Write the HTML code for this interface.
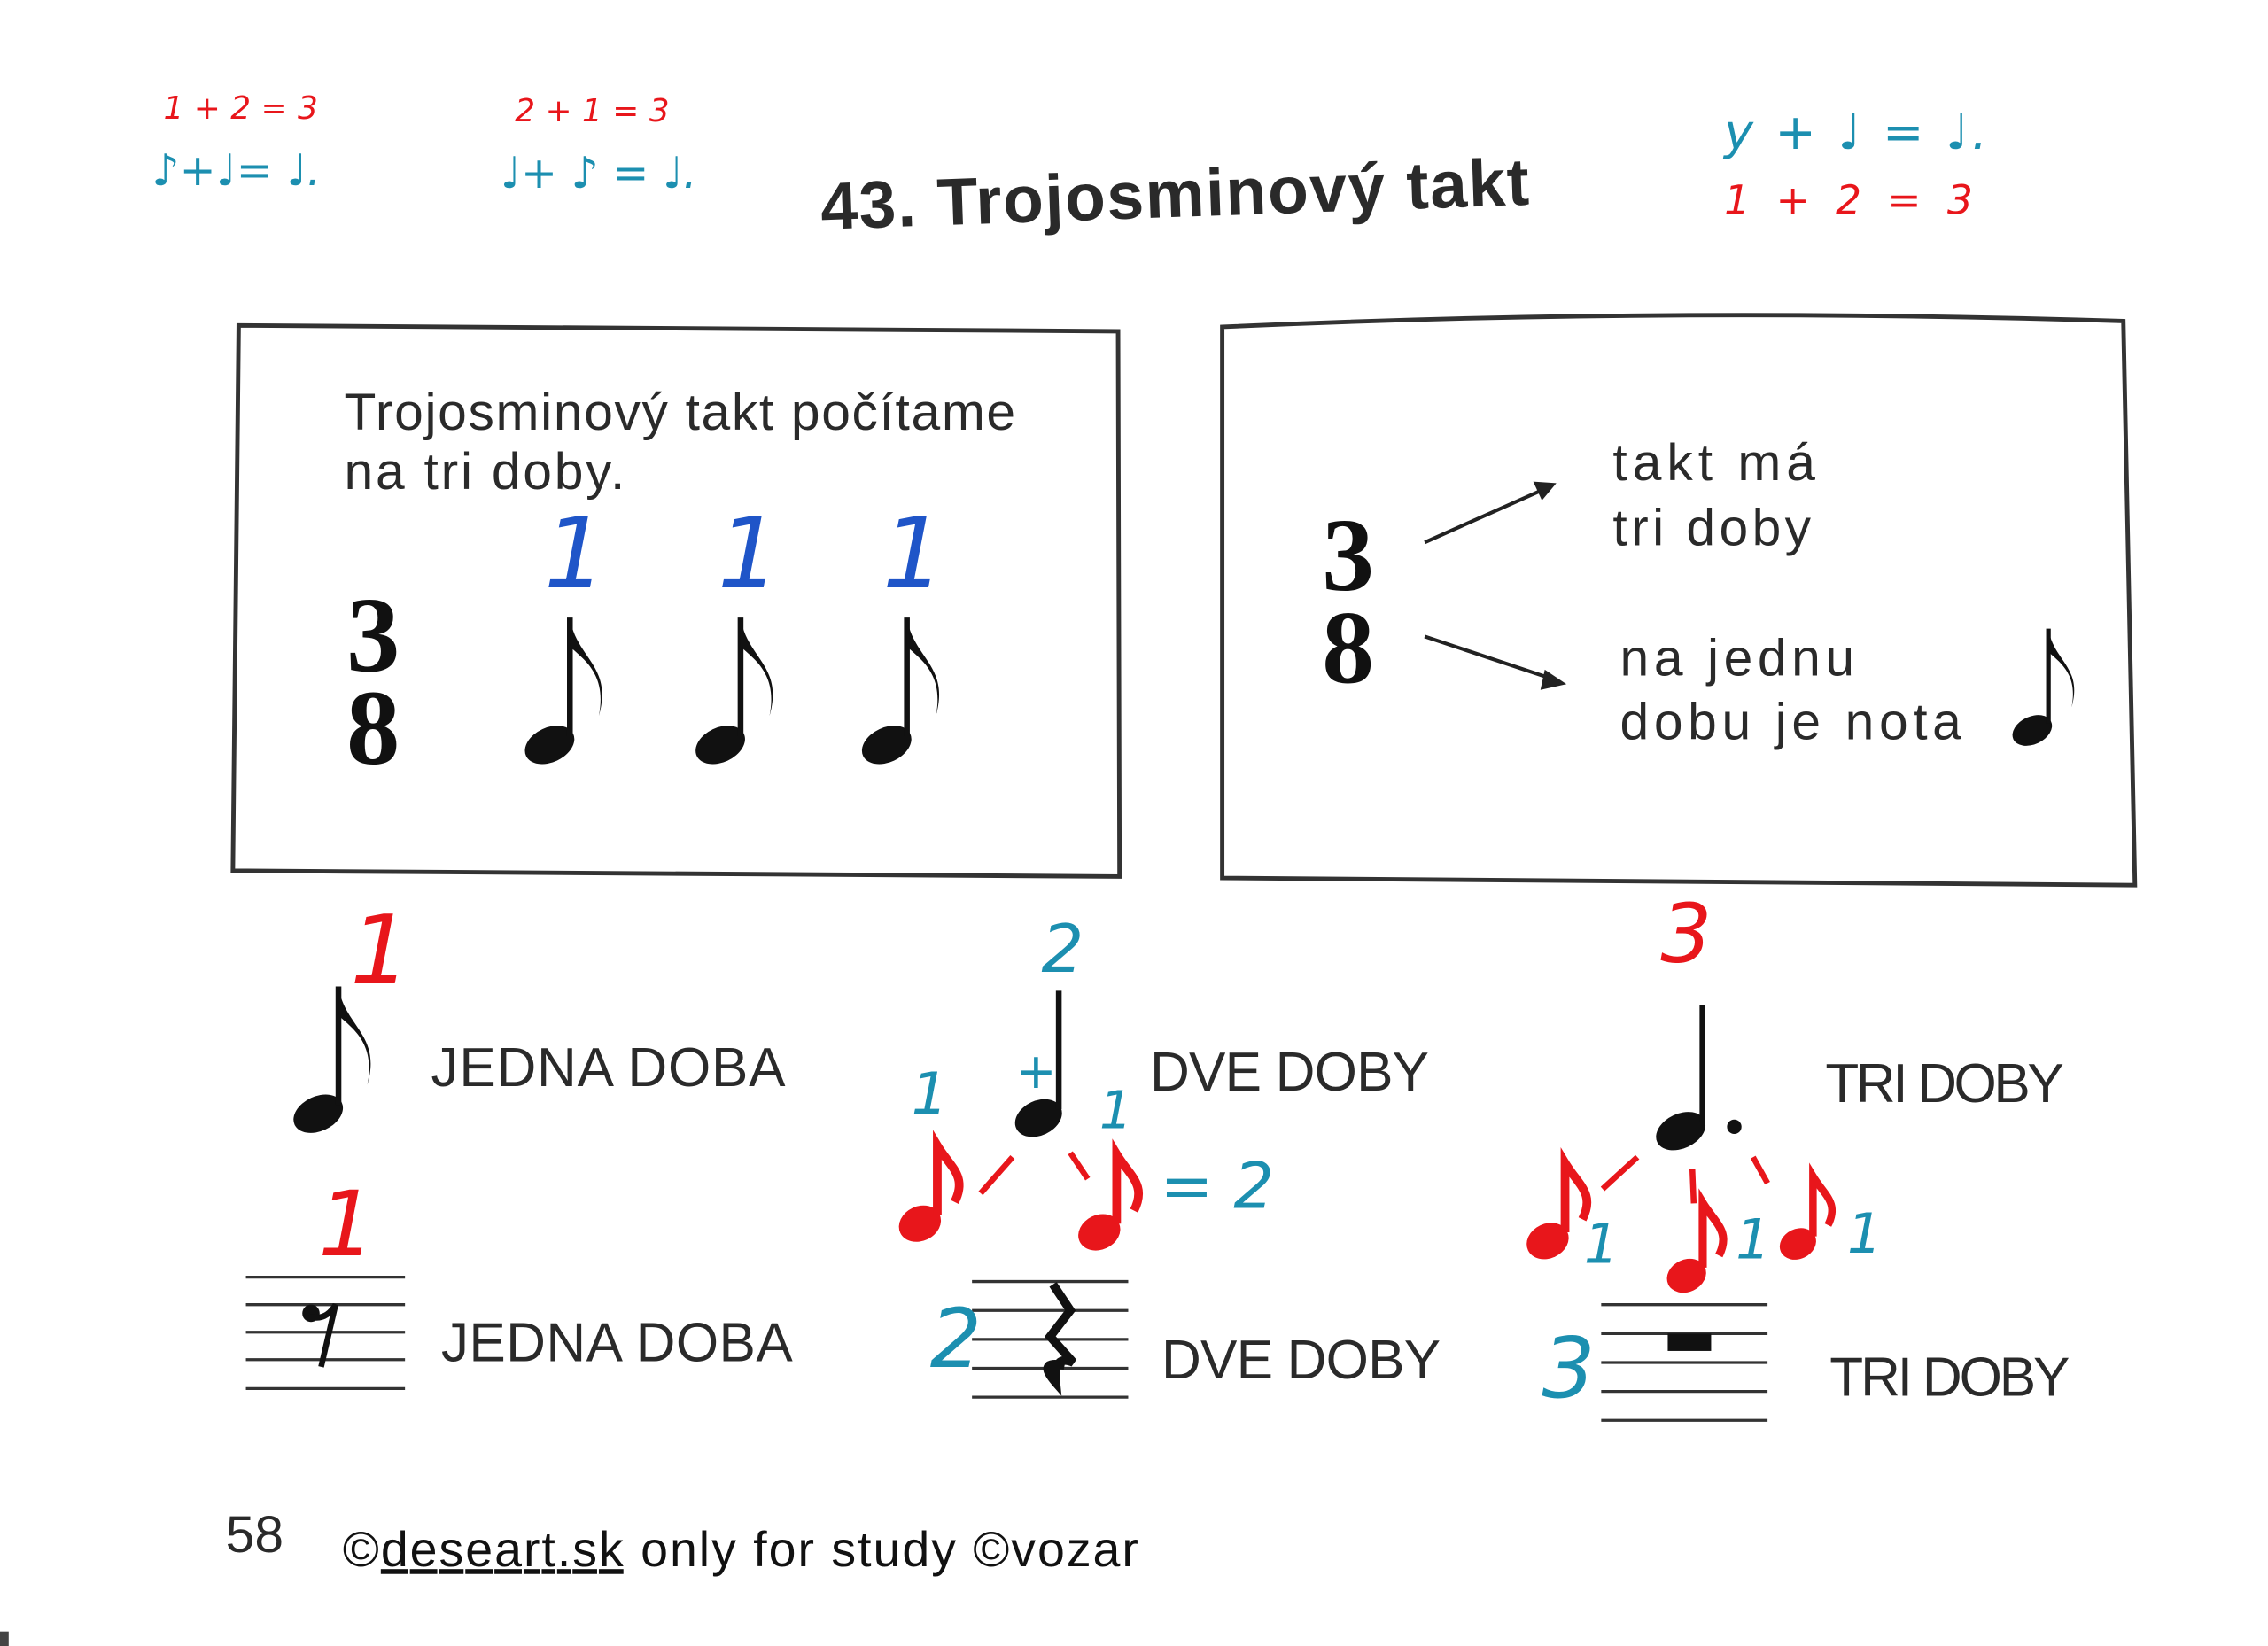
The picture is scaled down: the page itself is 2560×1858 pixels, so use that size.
<!DOCTYPE html>
<html><head><meta charset="utf-8"><style>
html,body{margin:0;padding:0;background:#fff}
svg{display:block}
.t{font-family:"Liberation Sans",sans-serif;fill:#2a2a2a}
.h{font-family:"DejaVu Sans","Liberation Sans",sans-serif;font-style:italic}
.r{fill:#e8161b}.b{fill:#1c8fb0}.bl{fill:#1f55c8}
</style></head><body>
<svg width="2560" height="1858" viewBox="0 0 1568 1138" preserveAspectRatio="none" xmlns="http://www.w3.org/2000/svg">
<defs>
<g id="e8">
<ellipse cx="0" cy="0" rx="18" ry="12" transform="rotate(-25)" fill="#111"/>
<path d="M14,-6 L14,-88" stroke="#111" stroke-width="4"/>
<path d="M14,-88 C18,-60 44,-55 34,-20 C40,-50 22,-60 14,-68 Z" fill="#111"/>
</g>
<g id="e8r">
<ellipse cx="0" cy="0" rx="10" ry="8" transform="rotate(-25)" fill="#e8161b"/>
<path d="M8,-4 L8,-36 C14,-26 22,-22 16,-10" stroke="#e8161b" stroke-width="4" fill="none"/>
</g>
</defs>
<rect width="1568" height="1138" fill="#fff"/>

<text class="h r" x="113" y="82" font-size="22">1  + 2  = 3</text>
<text class="h b" x="105" y="128" font-size="30">♪+♩= ♩.</text>
<text class="h r" x="356" y="84" font-size="22">2  + 1  = 3</text>
<text class="h b" x="346" y="130" font-size="30">♩+ ♪ = ♩.</text>
<text class="h b" x="1192" y="103" font-size="34" textLength="182">y  +  ♩ =  ♩.</text>
<text class="h r" x="1192" y="148" font-size="28" textLength="172">1  +  2  =  3</text>

<text class="t" x="567" y="150" font-size="46" font-weight="bold" textLength="490" transform="rotate(-2 812 130)">43. Trojosminový takt</text>

<path d="M165,225 L773,229 L774,606 L161,602 Z" fill="none" stroke="#333" stroke-width="3"/>
<path d="M845,226 Q1150,212 1468,222 L1476,612 L845,607 Z" fill="none" stroke="#333" stroke-width="3"/>

<text class="t" x="238" y="297" font-size="36" textLength="464">Trojosminový takt počítame</text>
<text class="t" x="238" y="338" font-size="36" textLength="194">na tri doby.</text>
<text x="258" y="464" font-size="74" font-weight="bold" text-anchor="middle" font-family="Liberation Serif,serif" fill="#111">3</text>
<text x="258" y="528" font-size="74" font-weight="bold" text-anchor="middle" font-family="Liberation Serif,serif" fill="#111">8</text>
<use href="#e8" x="380" y="515"/><use href="#e8" x="498" y="515"/><use href="#e8" x="613" y="515"/>
<text class="h bl" x="376" y="406" font-size="68">1</text>
<text class="h bl" x="496" y="406" font-size="68">1</text>
<text class="h bl" x="610" y="406" font-size="68">1</text>

<text x="932" y="408" font-size="72" font-weight="bold" text-anchor="middle" font-family="Liberation Serif,serif" fill="#111">3</text>
<text x="932" y="472" font-size="72" font-weight="bold" text-anchor="middle" font-family="Liberation Serif,serif" fill="#111">8</text>
<path d="M985,375 L1068,338" stroke="#222" stroke-width="2.5"/><path d="M1076,334 L1060,333 L1066,346 Z" fill="#222"/>
<path d="M985,440 L1075,470" stroke="#222" stroke-width="2.5"/><path d="M1083,473 L1068,463 L1065,477 Z" fill="#222"/>
<text class="t" x="1115" y="332" font-size="36" textLength="140">takt má</text>
<text class="t" x="1115" y="377" font-size="36" textLength="137">tri doby</text>
<text class="t" x="1120" y="467" font-size="36" textLength="162">na jednu</text>
<text class="t" x="1120" y="511" font-size="36" textLength="236">dobu je nota</text>
<g transform="translate(1405,505) scale(0.8)"><use href="#e8"/></g>

<text class="h r" x="242" y="680" font-size="66">1</text>
<use href="#e8" x="220" y="770"/>
<text class="t" x="298" y="751" font-size="38" textLength="245">JEDNA DOBA</text>

<text class="h b" x="720" y="672" font-size="46">2</text>
<ellipse cx="718" cy="773" rx="17" ry="12" transform="rotate(-25 718 773)" fill="#111"/>
<path d="M732,767 L732,685" stroke="#111" stroke-width="4"/>
<text class="h b" x="702" y="752" font-size="34">+</text>
<text class="h b" x="630" y="770" font-size="40">1</text>
<text class="h b" x="760" y="780" font-size="36">1</text>
<text class="t" x="795" y="754" font-size="38" textLength="193">DVE DOBY</text>
<g transform="translate(636,846) scale(1.5)"><use href="#e8r"/></g>
<path d="M678,825 L700,800" stroke="#e8161b" stroke-width="4"/>
<path d="M740,797 L752,815" stroke="#e8161b" stroke-width="4"/>
<g transform="translate(760,852) scale(1.5)"><use href="#e8r"/></g>
<text class="h b" x="802" y="835" font-size="44">= 2</text>

<text class="h r" x="1148" y="665" font-size="56">3</text>
<ellipse cx="1162" cy="782" rx="18" ry="12" transform="rotate(-25 1162 782)" fill="#111"/>
<path d="M1177,776 L1177,695" stroke="#111" stroke-width="4"/>
<circle cx="1199" cy="779" r="5" fill="#111"/>
<text class="t" x="1262" y="762" font-size="38" textLength="165">TRI DOBY</text>
<g transform="translate(1070,858) scale(1.5)"><use href="#e8r"/></g>
<path d="M1108,822 L1132,800" stroke="#e8161b" stroke-width="4"/>
<path d="M1170,808 L1171,832" stroke="#e8161b" stroke-width="4"/>
<path d="M1212,800 L1222,818" stroke="#e8161b" stroke-width="4"/>
<g transform="translate(1166,882) scale(1.4)"><use href="#e8r"/></g>
<g transform="translate(1243,860) scale(1.3)"><use href="#e8r"/></g>
<text class="h b" x="1095" y="873" font-size="38">1</text>
<text class="h b" x="1200" y="870" font-size="38">1</text>
<text class="h b" x="1277" y="866" font-size="38">1</text>

<text class="h r" x="220" y="868" font-size="62">1</text>
<g stroke="#333" stroke-width="2">
<path d="M170,883H280M170,902H280M170,921H280M170,940H280M170,960H280"/>
<path d="M672,886H780M672,906H780M672,926H780M672,946H780M672,966H780"/>
<path d="M1107,902H1222M1107,922H1222M1107,942H1222M1107,962H1222M1107,982H1222"/>
</g>
<circle cx="215" cy="908" r="6" fill="#111"/>
<path d="M213,910 Q225,914 232,902 L222,945" stroke="#111" stroke-width="4" fill="none"/>
<text class="t" x="305" y="941" font-size="38" textLength="243">JEDNA DOBA</text>

<text class="h b" x="643" y="945" font-size="56">2</text>
<path d="M728,888 L740,906 L726,924 L742,942 Q728,936 730,956 Q716,940 736,944" stroke="#111" stroke-width="6" fill="none"/>
<text class="t" x="803" y="953" font-size="38" textLength="193">DVE DOBY</text>

<text class="h b" x="1066" y="966" font-size="58">3</text>
<rect x="1153" y="922" width="30" height="12" fill="#111"/>
<text class="t" x="1265" y="965" font-size="38" textLength="166">TRI DOBY</text>

<text class="t" x="156" y="1073" font-size="36" fill="#222">58</text>
<text x="237" y="1083" font-size="34" font-family="Liberation Sans,sans-serif" fill="#111" textLength="550">©<tspan text-decoration="underline">deseart.sk</tspan> only for study ©vozar</text>
<rect x="0" y="1128" width="6" height="10" fill="#444"/>
</svg>
</body></html>
